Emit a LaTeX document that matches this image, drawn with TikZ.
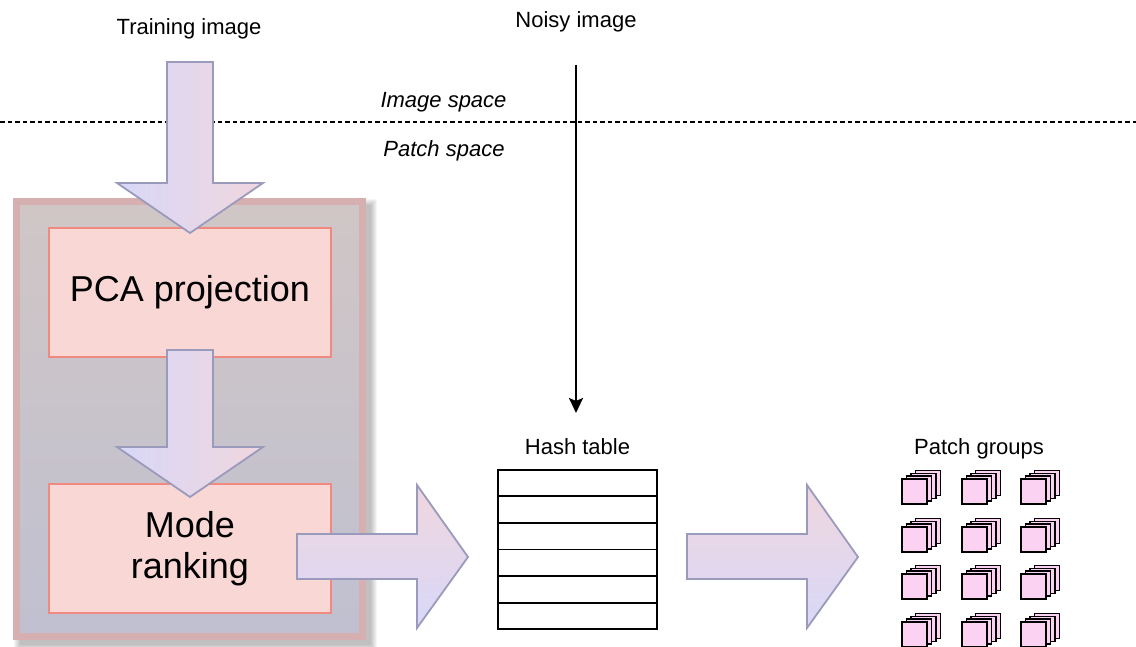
\documentclass[tikz,border=0pt]{standalone}
\usepackage{fontspec}
\setmainfont{Liberation Sans}
\usetikzlibrary{arrows.meta,calc}

\definecolor{arrowedge}{HTML}{9A9ABC}
\definecolor{lav}{HTML}{D8D8F8}
\definecolor{rose}{HTML}{F0D6DE}
\definecolor{boxfill}{HTML}{F8D7D5}
\definecolor{boxedge}{HTML}{F08A80}
\definecolor{grpedge}{HTML}{D6B0B0}
\definecolor{grptop}{HTML}{D0C6C6}
\definecolor{grpbot}{HTML}{C0C0D0}
\definecolor{patchfill}{HTML}{FCD2F2}

\begin{document}
\begin{tikzpicture}[x=1pt,y=1pt,
  lbl/.style={font=\fontsize{22}{26}\selectfont, inner sep=0pt, anchor=base},
  stage/.style={draw=boxedge, line width=1.5pt, fill=boxfill,
    minimum width=282pt, minimum height=129pt, inner sep=0pt,
    align=center, font=\fontsize{36}{41}\selectfont},
  group/.style={draw=grpedge, line width=7pt, top color=grptop, bottom color=grpbot,
    minimum width=346pt, minimum height=435pt, inner sep=0pt},
  downarrow/.style={draw=arrowedge, line width=1.8pt, left color=lav, right color=rose, line join=miter},
  rightarrow/.style={draw=arrowedge, line width=1.8pt, top color=rose, bottom color=lav, line join=miter},
  patch/.style={draw=black, line width=1.7pt, fill=patchfill},
  cell/.style={draw=black, line width=1.8pt},
]
\useasboundingbox (0,0) rectangle (1136,646);

% boundary between image space and patch space
\draw[line width=1.5pt, dash pattern=on 4.5pt off 3pt] (0,524) -- (1136,524);
\node[lbl, font=\fontsize{22}{26}\selectfont\itshape] (imgspace) at (443.5,538) {Image space};
\node[lbl, font=\fontsize{22}{26}\selectfont\itshape] (patchspace) at (444,489) {Patch space};

% titles
\node[lbl] (train) at (189,611) {Training image};
\node[lbl] (noisy) at (576,618) {Noisy image};

% soft shadow of the training block, cast to the lower right
\foreach \k in {0,...,6}
  \fill[black, opacity=0.04]
    (20-6+\k, 1-6+\k) rectangle (371+6-\k, 441+6-\k);

% training block
\node[group] (group) at (189.5,227) {};
\node[stage] (pca) at (190,353.5) {PCA projection};
\node[stage] (mode) at (190,97.5) {Mode\\ranking};

% block arrows
\draw[downarrow] (167,584) -- (213,584) -- (213,463) -- (263,463) -- (190,413)
  -- (117,463) -- (167,463) -- cycle;
\draw[downarrow] (167,296) -- (213,296) -- (213,199) -- (263,199) -- (190,149)
  -- (117,199) -- (167,199) -- cycle;
\draw[rightarrow] (297,112) -- (417,112) -- (417,161) -- (468,89) -- (417,18)
  -- (417,67) -- (297,67) -- cycle;
\draw[rightarrow] (687,112) -- (807,112) -- (807,161) -- (858,89) -- (807,18)
  -- (807,67) -- (687,67) -- cycle;

% hash table
\node[lbl] (hashlbl) at (577.5,191) {Hash table};
\node[cell, minimum width=159pt, minimum height=159pt, inner sep=0pt] (hash) at (577.5,96.5) {};
\foreach \k in {1,...,5}
  \draw[cell] ($(hash.north west)!\k/6!(hash.south west)$) -- ($(hash.north east)!\k/6!(hash.south east)$);

% noisy image goes straight to the hash table
\coordinate (nstart) at (576,581);
\coordinate (nend) at (576,233);
\draw[line width=2.5pt, -{Stealth[length=15pt,width=14pt,inset=3pt]}] (nstart) -- (nend);

% patch groups
\node[lbl] (groupslbl) at (979,191) {Patch groups};
\foreach \cx in {902,962,1021}
  \foreach \ty in {167,119,72,24}
    \foreach \s in {3,2,1,0}
      \draw[patch] (\cx+4.5*\s, \ty-25+2.8*\s) rectangle ++(25,25);
\end{tikzpicture}
\end{document}
